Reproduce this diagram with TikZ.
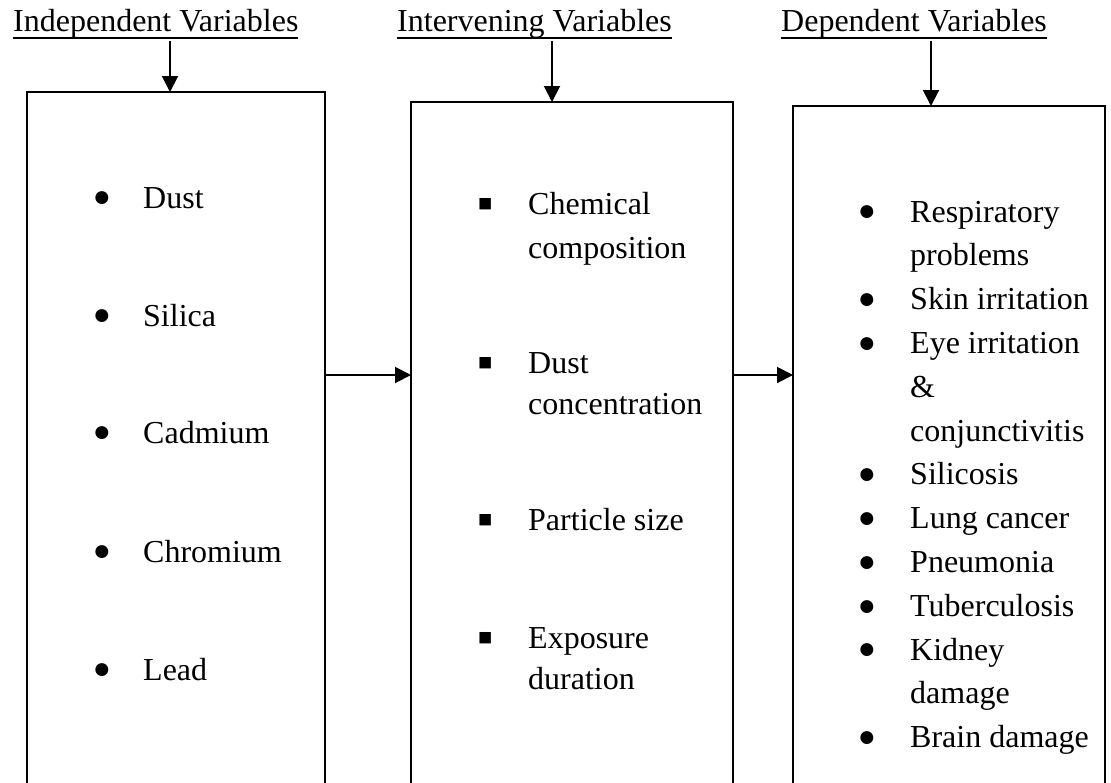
\documentclass[tikz,border=0pt]{standalone}
\usepackage{fontspec}
\setmainfont{Liberation Serif}
\usetikzlibrary{arrows.meta}
\newcommand{\myul}[1]{\setbox0\hbox{#1}\rlap{\rule[-7.75pt]{\wd0}{1.6pt}}\box0}
\begin{document}
\begin{tikzpicture}[x=1pt,y=-1pt,
  box/.style={draw,line width=2pt,anchor=north west,minimum height=760pt,inner sep=0pt,outer sep=0pt},
  arr/.style={line width=2pt,-{Triangle[width=16pt,length=16pt]}},
  txt/.style={anchor=base west,inner sep=0pt,font=\fontsize{32}{38}\selectfont},
  blt/.style={anchor=base,inner sep=0pt,yshift=1.2pt,font=\fontsize{30}{30}\selectfont},
  sq/.style={anchor=base,inner sep=0pt,yshift=-4pt,font=\fontsize{46}{46}\selectfont},
  head/.style={anchor=base west,inner sep=0pt,font=\fontsize{32}{38}\selectfont},
]
\useasboundingbox (0,0) rectangle (1111,782);
\clip (0,0) rectangle (1111,782);

% headings
\node[head] (head1) at (13,31) {\myul{Independent Variables}};
\node[head] (head2) at (397,31) {\myul{Intervening Variables}};
\node[head] (head3) at (781,31) {\myul{Dependent Variables}};

% boxes (open at the bottom edge of the picture)
\node[box,minimum width=298pt] (box1) at (27,92) {};
\node[box,minimum width=322pt] (box2) at (411,102) {};
\node[box,minimum width=312pt] (box3) at (793,106) {};

% arrows
\coordinate (a1) at (170,41);
\coordinate (a2) at (552,41);
\coordinate (a3) at (931,41);
\coordinate (mid) at (0,375);
\draw[arr] (a1) -- (box1.north -| a1);
\draw[arr] (a2) -- (box2.north -| a2);
\draw[arr] (a3) -- (box3.north -| a3);
\draw[arr] (box1.east |- mid) -- (box2.west |- mid);
\draw[arr] (box2.east |- mid) -- (box3.west |- mid);

% box 1
\node[blt] (p11) at (102,208) {●};
\node[txt] (t11) at (143,208) {Dust};
\node[blt] (p12) at (102,326) {●};
\node[txt] (t12) at (143,326) {Silica};
\node[blt] (p13) at (102,443) {●};
\node[txt] (t13) at (143,443) {Cadmium};
\node[blt] (p14) at (102,562) {●};
\node[txt] (t14) at (143,562) {Chromium};
\node[blt] (p15) at (102,680) {●};
\node[txt] (t15) at (143,680) {Lead};

% box 2
\node[sq] (p21) at (486,214) {▪};
\node[txt] (t21) at (528,214) {Chemical};
\node[txt] (t21b) at (528,258) {composition};
\node[sq] (p22) at (486,373) {▪};
\node[txt] (t22) at (528,373) {Dust};
\node[txt] (t22b) at (528,414) {concentration};
\node[sq] (p23) at (486,530) {▪};
\node[txt] (t23) at (528,530) {Particle size};
\node[sq] (p24) at (486,648) {▪};
\node[txt] (t24) at (528,648) {Exposure};
\node[txt] (t24b) at (528,689) {duration};

% box 3
\node[blt] (p31) at (867,222) {●};
\node[txt] (t31) at (910,222) {Respiratory};
\node[txt] (t31b) at (910,265.8) {problems};
\node[blt] (p32) at (867,309.6) {●};
\node[txt] (t32) at (910,309.6) {Skin irritation};
\node[blt] (p33) at (867,353.4) {●};
\node[txt] (t33) at (910,353.4) {Eye irritation};
\node[txt] (t33b) at (910,397.2) {\&};
\node[txt] (t33c) at (910,441) {conjunctivitis};
\node[blt] (p34) at (867,484.8) {●};
\node[txt] (t34) at (910,484.8) {Silicosis};
\node[blt] (p35) at (867,528.6) {●};
\node[txt] (t35) at (910,528.6) {Lung cancer};
\node[blt] (p36) at (867,572.4) {●};
\node[txt] (t36) at (910,572.4) {Pneumonia};
\node[blt] (p37) at (867,616.2) {●};
\node[txt] (t37) at (910,616.2) {Tuberculosis};
\node[blt] (p38) at (867,660) {●};
\node[txt] (t38) at (910,660) {Kidney};
\node[txt] (t38b) at (910,703.8) {damage};
\node[blt] (p39) at (867,747.6) {●};
\node[txt] (t39) at (910,747.6) {Brain damage};
\end{tikzpicture}
\end{document}
